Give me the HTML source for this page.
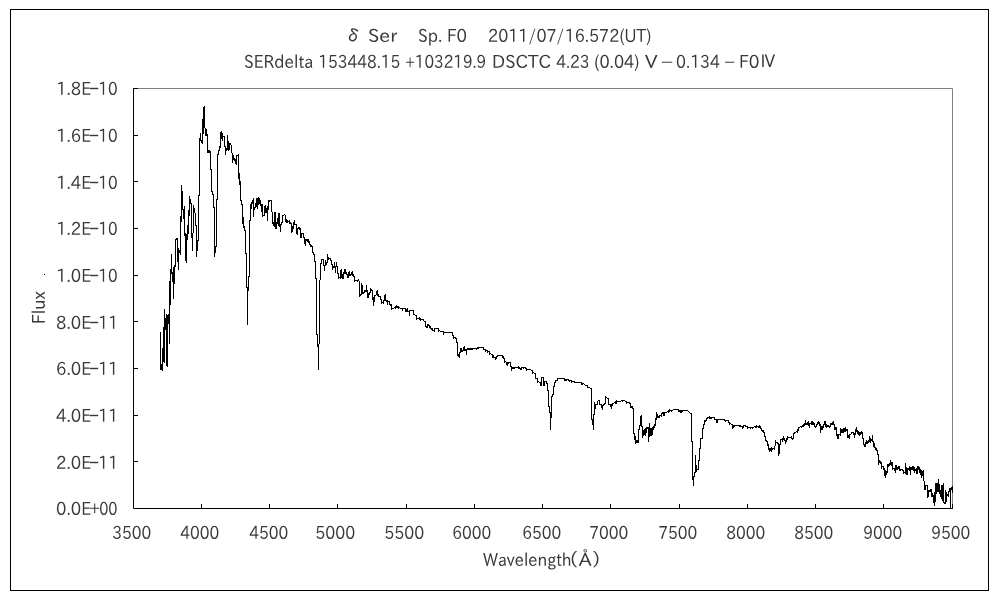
<!DOCTYPE html>
<html><head><meta charset="utf-8"><style>
html,body{margin:0;padding:0;background:#fff;width:1000px;height:600px;overflow:hidden}
svg{display:block}
.t{font-family:'IPAPGothic','IPAGothic','Liberation Sans',sans-serif;font-size:18px;fill:#383838}
</style></head><body>
<svg width="1000" height="600" viewBox="0 0 1000 600">
<rect width="1000" height="600" fill="#fff"/>
<rect x="10.5" y="9.5" width="978" height="581" fill="none" stroke="#000" stroke-width="1"/>
<path d="M133 88.5H952.5V508" fill="none" stroke="#808080" stroke-width="1"/>
<path d="M133.5 88V508.5H953" fill="none" stroke="#000" stroke-width="1"/>
<path d="M134 508.5h4M134 461.5h4M134 415.5h4M134 368.5h4M134 321.5h4M134 275.5h4M134 228.5h4M134 181.5h4M134 135.5h4M134 88.5h4M133.5 508v-4M201.5 508v-4M269.5 508v-4M337.5 508v-4M406.5 508v-4M474.5 508v-4M542.5 508v-4M610.5 508v-4M679.5 508v-4M747.5 508v-4M815.5 508v-4M883.5 508v-4M952.5 508v-4" stroke="#000" stroke-width="1"/>
<text x="56.08" y="515" textLength="34.98" lengthAdjust="spacingAndGlyphs" class="t">0.0E</text>
<text x="89.00" y="514" textLength="11.34" lengthAdjust="spacingAndGlyphs" class="t">+</text>
<text x="99.19" y="515" textLength="18.37" lengthAdjust="spacingAndGlyphs" class="t">00</text>
<text x="56.08" y="469" textLength="34.98" lengthAdjust="spacingAndGlyphs" class="t">2.0E</text>
<text x="88.20" y="468" textLength="11.62" lengthAdjust="spacingAndGlyphs" class="t">-</text>
<text x="98.25" y="469" textLength="19.85" lengthAdjust="spacingAndGlyphs" class="t">11</text>
<text x="56.08" y="422" textLength="34.98" lengthAdjust="spacingAndGlyphs" class="t">4.0E</text>
<text x="88.20" y="421" textLength="11.62" lengthAdjust="spacingAndGlyphs" class="t">-</text>
<text x="98.25" y="422" textLength="19.85" lengthAdjust="spacingAndGlyphs" class="t">11</text>
<text x="56.08" y="375" textLength="34.98" lengthAdjust="spacingAndGlyphs" class="t">6.0E</text>
<text x="88.20" y="374" textLength="11.62" lengthAdjust="spacingAndGlyphs" class="t">-</text>
<text x="98.25" y="375" textLength="19.85" lengthAdjust="spacingAndGlyphs" class="t">11</text>
<text x="56.08" y="329" textLength="34.98" lengthAdjust="spacingAndGlyphs" class="t">8.0E</text>
<text x="88.20" y="328" textLength="11.62" lengthAdjust="spacingAndGlyphs" class="t">-</text>
<text x="98.25" y="329" textLength="19.85" lengthAdjust="spacingAndGlyphs" class="t">11</text>
<text x="56.17" y="282" textLength="34.89" lengthAdjust="spacingAndGlyphs" class="t">1.0E</text>
<text x="88.20" y="281" textLength="11.62" lengthAdjust="spacingAndGlyphs" class="t">-</text>
<text x="98.30" y="282" textLength="19.28" lengthAdjust="spacingAndGlyphs" class="t">10</text>
<text x="56.17" y="235" textLength="34.89" lengthAdjust="spacingAndGlyphs" class="t">1.2E</text>
<text x="88.20" y="234" textLength="11.62" lengthAdjust="spacingAndGlyphs" class="t">-</text>
<text x="98.30" y="235" textLength="19.28" lengthAdjust="spacingAndGlyphs" class="t">10</text>
<text x="56.17" y="189" textLength="34.89" lengthAdjust="spacingAndGlyphs" class="t">1.4E</text>
<text x="88.20" y="188" textLength="11.62" lengthAdjust="spacingAndGlyphs" class="t">-</text>
<text x="98.30" y="189" textLength="19.28" lengthAdjust="spacingAndGlyphs" class="t">10</text>
<text x="56.17" y="142" textLength="34.89" lengthAdjust="spacingAndGlyphs" class="t">1.6E</text>
<text x="88.20" y="141" textLength="11.62" lengthAdjust="spacingAndGlyphs" class="t">-</text>
<text x="98.30" y="142" textLength="19.28" lengthAdjust="spacingAndGlyphs" class="t">10</text>
<text x="56.17" y="95" textLength="34.89" lengthAdjust="spacingAndGlyphs" class="t">1.8E</text>
<text x="88.20" y="94" textLength="11.62" lengthAdjust="spacingAndGlyphs" class="t">-</text>
<text x="98.30" y="95" textLength="19.28" lengthAdjust="spacingAndGlyphs" class="t">10</text>
<text x="112.14" y="539" textLength="39.03" lengthAdjust="spacingAndGlyphs" class="t">3500</text>
<text x="180.14" y="539" textLength="39.03" lengthAdjust="spacingAndGlyphs" class="t">4000</text>
<text x="249.14" y="539" textLength="39.03" lengthAdjust="spacingAndGlyphs" class="t">4500</text>
<text x="315.24" y="539" textLength="39.96" lengthAdjust="spacingAndGlyphs" class="t">5000</text>
<text x="384.24" y="539" textLength="39.96" lengthAdjust="spacingAndGlyphs" class="t">5500</text>
<text x="452.14" y="539" textLength="39.03" lengthAdjust="spacingAndGlyphs" class="t">6000</text>
<text x="522.14" y="539" textLength="39.03" lengthAdjust="spacingAndGlyphs" class="t">6500</text>
<text x="589.14" y="539" textLength="39.03" lengthAdjust="spacingAndGlyphs" class="t">7000</text>
<text x="658.14" y="539" textLength="39.03" lengthAdjust="spacingAndGlyphs" class="t">7500</text>
<text x="726.14" y="539" textLength="39.03" lengthAdjust="spacingAndGlyphs" class="t">8000</text>
<text x="794.14" y="539" textLength="39.03" lengthAdjust="spacingAndGlyphs" class="t">8500</text>
<text x="863.14" y="539" textLength="39.03" lengthAdjust="spacingAndGlyphs" class="t">9000</text>
<text x="931.14" y="539" textLength="39.03" lengthAdjust="spacingAndGlyphs" class="t">9500</text>
<text x="483.00" y="566" textLength="88.54" lengthAdjust="spacingAndGlyphs" class="t">Wavelength</text>
<text x="567.50" y="566" textLength="35.19" lengthAdjust="spacingAndGlyphs" class="t">（Å）</text>
<text x="343.67" y="42" textLength="53.65" lengthAdjust="spacingAndGlyphs" class="t">δ Ser</text>
<text x="418.08" y="42" textLength="48.81" lengthAdjust="spacingAndGlyphs" class="t">Sp. F0</text>
<text x="488.11" y="42" textLength="163.40" lengthAdjust="spacingAndGlyphs" class="t">2011/07/16.572(UT)</text>
<text x="244.08" y="68" textLength="69.18" lengthAdjust="spacingAndGlyphs" class="t">SERdelta</text>
<text x="318.28" y="68" textLength="81.98" lengthAdjust="spacingAndGlyphs" class="t">153448.15</text>
<text x="405.15" y="68" textLength="81.10" lengthAdjust="spacingAndGlyphs" class="t">+103219.9</text>
<text x="492.07" y="68" textLength="58.94" lengthAdjust="spacingAndGlyphs" class="t">DSCTC</text>
<text x="556.14" y="68" textLength="33.39" lengthAdjust="spacingAndGlyphs" class="t">4.23</text>
<text x="594.10" y="68" textLength="45.48" lengthAdjust="spacingAndGlyphs" class="t">(0.04)</text>
<text x="645.00" y="68" textLength="12.53" lengthAdjust="spacingAndGlyphs" class="t">V</text>
<text x="660.89" y="68" textLength="12.60" lengthAdjust="spacingAndGlyphs" class="t">−</text>
<text x="676.12" y="68" textLength="43.85" lengthAdjust="spacingAndGlyphs" class="t">0.134</text>
<text x="724.00" y="68" textLength="11.34" lengthAdjust="spacingAndGlyphs" class="t">−</text>
<text x="739.11" y="68" textLength="37.44" lengthAdjust="spacingAndGlyphs" class="t">F0Ⅳ</text>
<text transform="translate(45,323.88) rotate(-90)" x="0" y="0" textLength="32.65" lengthAdjust="spacingAndGlyphs" class="t">Flux</text>
<rect x="44" y="274" width="1" height="1" fill="#000"/>
<polyline shape-rendering="crispEdges" fill="none" stroke="#000" stroke-width="1" stroke-linejoin="miter" points="160.5,331.5 160.5,369.5 160.5,366.5 161.5,366.5 161.5,363.5 161.5,369.5 161.5,366.5 162.5,366.5 162.5,370.5 162.5,347.5 162.5,354.5 163.5,354.5 163.5,361.5 163.5,326.5 163.5,344.5 164.5,344.5 164.5,362.5 164.5,308.5 164.5,323.5 165.5,323.5 165.5,317.5 165.5,329.5 165.5,323.5 166.5,323.5 166.5,313.5 166.5,365.5 166.5,340.5 167.5,340.5 167.5,366.5 167.5,314.5 167.5,318.5 168.5,318.5 168.5,313.5 168.5,323.5 168.5,318.5 169.5,318.5 169.5,343.5 169.5,280.5 169.5,292.5 170.5,292.5 170.5,304.5 170.5,268.5 170.5,270.5 171.5,270.5 171.5,253.5 171.5,273.5 171.5,272.5 172.5,272.5 172.5,281.5 172.5,276.5 173.5,276.5 173.5,298.5 173.5,266.5 173.5,274.5 174.5,274.5 174.5,283.5 174.5,264.5 174.5,265.5 175.5,265.5 175.5,266.5 175.5,239.5 176.5,239.5 176.5,237.5 176.5,238.5 177.5,238.5 177.5,237.5 177.5,261.5 177.5,254.5 178.5,254.5 178.5,269.5 178.5,247.5 178.5,250.5 179.5,250.5 179.5,249.5 179.5,252.5 179.5,250.5 180.5,250.5 180.5,254.5 180.5,215.5 180.5,218.5 181.5,218.5 181.5,221.5 181.5,184.5 181.5,200.5 182.5,200.5 182.5,190.5 182.5,209.5 183.5,209.5 183.5,218.5 183.5,214.5 184.5,214.5 184.5,205.5 184.5,235.5 184.5,234.5 185.5,234.5 185.5,232.5 185.5,260.5 185.5,246.5 186.5,246.5 186.5,262.5 186.5,233.5 186.5,236.5 187.5,236.5 187.5,239.5 187.5,224.5 187.5,228.5 188.5,228.5 188.5,233.5 188.5,209.5 188.5,212.5 189.5,212.5 189.5,215.5 189.5,195.5 189.5,200.5 190.5,200.5 190.5,198.5 190.5,203.5 191.5,203.5 191.5,237.5 191.5,235.5 192.5,235.5 192.5,250.5 192.5,233.5 193.5,232.5 193.5,204.5 193.5,210.5 194.5,210.5 194.5,207.5 194.5,212.5 195.5,213.5 195.5,225.5 196.5,225.5 196.5,256.5 196.5,245.5 197.5,245.5 197.5,250.5 197.5,240.5 198.5,240.5 198.5,195.5 199.5,195.5 199.5,137.5 199.5,138.5 200.5,138.5 200.5,132.5 200.5,140.5 201.5,140.5 201.5,139.5 201.5,142.5 201.5,140.5 202.5,140.5 202.5,143.5 202.5,118.5 202.5,126.5 203.5,126.5 203.5,133.5 203.5,106.5 203.5,114.5 204.5,114.5 204.5,105.5 204.5,123.5 205.5,132.5 205.5,135.5 205.5,134.5 206.5,134.5 206.5,128.5 206.5,135.5 206.5,134.5 207.5,134.5 207.5,152.5 207.5,150.5 208.5,150.5 208.5,149.5 208.5,152.5 208.5,150.5 209.5,150.5 209.5,149.5 209.5,152.5 209.5,151.5 210.5,151.5 210.5,150.5 210.5,169.5 211.5,169.5 211.5,191.5 212.5,191.5 212.5,194.5 213.5,194.5 213.5,207.5 214.5,207.5 214.5,256.5 214.5,249.5 215.5,249.5 215.5,252.5 215.5,246.5 216.5,246.5 216.5,199.5 217.5,199.5 217.5,154.5 218.5,154.5 218.5,149.5 218.5,150.5 219.5,150.5 219.5,146.5 220.5,146.5 220.5,147.5 220.5,131.5 220.5,134.5 221.5,134.5 221.5,130.5 221.5,138.5 221.5,135.5 222.5,135.5 222.5,132.5 222.5,140.5 222.5,136.5 223.5,136.5 224.5,136.5 224.5,135.5 224.5,146.5 225.5,146.5 225.5,154.5 225.5,149.5 226.5,149.5 226.5,150.5 226.5,148.5 227.5,148.5 227.5,149.5 227.5,134.5 227.5,144.5 228.5,144.5 228.5,140.5 228.5,150.5 228.5,146.5 229.5,146.5 229.5,149.5 229.5,142.5 229.5,143.5 230.5,143.5 230.5,142.5 230.5,144.5 231.5,145.5 231.5,152.5 232.5,153.5 232.5,162.5 232.5,156.5 233.5,156.5 233.5,154.5 233.5,159.5 233.5,158.5 234.5,158.5 234.5,157.5 234.5,160.5 234.5,159.5 235.5,159.5 235.5,158.5 235.5,163.5 235.5,160.5 236.5,160.5 236.5,164.5 236.5,155.5 237.5,155.5 238.5,155.5 238.5,153.5 238.5,178.5 238.5,175.5 239.5,175.5 239.5,172.5 239.5,184.5 239.5,182.5 240.5,182.5 240.5,180.5 240.5,200.5 241.5,200.5 241.5,204.5 242.5,204.5 242.5,223.5 242.5,220.5 243.5,220.5 243.5,216.5 243.5,227.5 243.5,226.5 244.5,226.5 244.5,230.5 245.5,230.5 245.5,253.5 246.5,253.5 246.5,287.5 247.5,287.5 247.5,324.5 247.5,288.5 248.5,288.5 248.5,290.5 248.5,276.5 249.5,276.5 249.5,220.5 250.5,220.5 250.5,203.5 250.5,206.5 251.5,206.5 251.5,208.5 251.5,201.5 251.5,202.5 252.5,202.5 252.5,203.5 252.5,199.5 252.5,201.5 253.5,201.5 253.5,197.5 253.5,216.5 253.5,208.5 254.5,208.5 254.5,209.5 254.5,207.5 255.5,207.5 255.5,202.5 255.5,204.5 256.5,204.5 256.5,206.5 256.5,197.5 256.5,202.5 257.5,202.5 257.5,208.5 257.5,197.5 257.5,200.5 258.5,200.5 258.5,196.5 258.5,204.5 258.5,200.5 259.5,200.5 259.5,197.5 259.5,203.5 259.5,201.5 260.5,201.5 260.5,199.5 260.5,205.5 260.5,204.5 261.5,204.5 261.5,203.5 261.5,211.5 261.5,207.5 262.5,207.5 262.5,203.5 262.5,216.5 262.5,215.5 263.5,215.5 264.5,215.5 264.5,205.5 264.5,208.5 265.5,208.5 265.5,204.5 265.5,212.5 265.5,210.5 266.5,210.5 266.5,207.5 266.5,212.5 266.5,210.5 267.5,210.5 267.5,220.5 267.5,205.5 267.5,207.5 268.5,207.5 268.5,209.5 268.5,199.5 268.5,200.5 269.5,200.5 269.5,199.5 269.5,201.5 269.5,200.5 270.5,200.5 271.5,200.5 271.5,211.5 272.5,212.5 272.5,223.5 272.5,222.5 273.5,222.5 273.5,225.5 273.5,224.5 274.5,224.5 274.5,226.5 274.5,211.5 274.5,218.5 275.5,218.5 275.5,211.5 275.5,228.5 275.5,225.5 276.5,225.5 276.5,228.5 276.5,222.5 277.5,222.5 277.5,223.5 277.5,217.5 277.5,220.5 278.5,220.5 278.5,225.5 278.5,212.5 278.5,218.5 279.5,218.5 279.5,212.5 279.5,226.5 279.5,225.5 280.5,225.5 280.5,231.5 280.5,224.5 281.5,224.5 281.5,222.5 282.5,222.5 282.5,215.5 283.5,215.5 284.5,214.5 285.5,215.5 285.5,221.5 285.5,220.5 286.5,220.5 286.5,218.5 286.5,222.5 286.5,220.5 287.5,220.5 287.5,219.5 287.5,222.5 287.5,221.5 288.5,221.5 289.5,221.5 289.5,219.5 289.5,223.5 289.5,222.5 290.5,222.5 290.5,221.5 290.5,223.5 291.5,223.5 291.5,232.5 291.5,228.5 292.5,228.5 292.5,231.5 292.5,225.5 292.5,226.5 293.5,226.5 293.5,228.5 293.5,221.5 293.5,222.5 294.5,222.5 294.5,219.5 294.5,224.5 295.5,224.5 296.5,224.5 296.5,223.5 296.5,233.5 296.5,230.5 297.5,230.5 297.5,234.5 297.5,228.5 298.5,228.5 298.5,226.5 298.5,227.5 299.5,227.5 299.5,226.5 299.5,229.5 299.5,228.5 300.5,228.5 300.5,237.5 300.5,234.5 301.5,234.5 301.5,237.5 301.5,232.5 301.5,233.5 302.5,233.5 303.5,233.5 303.5,232.5 303.5,237.5 304.5,237.5 304.5,243.5 304.5,240.5 305.5,240.5 305.5,245.5 305.5,238.5 305.5,239.5 306.5,239.5 306.5,238.5 306.5,240.5 306.5,239.5 307.5,239.5 307.5,238.5 307.5,241.5 307.5,240.5 308.5,240.5 308.5,238.5 308.5,242.5 308.5,241.5 309.5,241.5 309.5,240.5 309.5,244.5 310.5,244.5 310.5,243.5 310.5,246.5 310.5,245.5 311.5,245.5 311.5,244.5 311.5,246.5 312.5,246.5 312.5,245.5 312.5,252.5 313.5,252.5 313.5,254.5 314.5,254.5 314.5,261.5 315.5,261.5 315.5,278.5 316.5,278.5 316.5,334.5 317.5,334.5 317.5,346.5 318.5,346.5 318.5,369.5 318.5,345.5 319.5,342.5 319.5,280.5 320.5,279.5 320.5,263.5 321.5,263.5 321.5,259.5 322.5,259.5 323.5,259.5 323.5,258.5 323.5,265.5 324.5,265.5 324.5,270.5 324.5,265.5 325.5,265.5 325.5,259.5 325.5,262.5 326.5,262.5 326.5,261.5 326.5,264.5 326.5,262.5 327.5,262.5 327.5,253.5 327.5,258.5 328.5,258.5 328.5,256.5 328.5,259.5 328.5,258.5 329.5,258.5 330.5,258.5 330.5,257.5 330.5,260.5 331.5,260.5 331.5,259.5 331.5,264.5 332.5,264.5 332.5,269.5 332.5,266.5 333.5,266.5 333.5,265.5 333.5,267.5 333.5,266.5 334.5,266.5 334.5,261.5 334.5,267.5 334.5,266.5 335.5,266.5 335.5,265.5 335.5,272.5 335.5,266.5 336.5,266.5 336.5,261.5 336.5,266.5 337.5,266.5 337.5,273.5 338.5,273.5 338.5,278.5 338.5,277.5 339.5,277.5 340.5,277.5 340.5,278.5 340.5,269.5 340.5,273.5 341.5,273.5 341.5,268.5 341.5,277.5 341.5,275.5 342.5,275.5 342.5,273.5 342.5,278.5 342.5,276.5 343.5,276.5 343.5,278.5 343.5,272.5 344.5,272.5 344.5,273.5 344.5,268.5 344.5,270.5 345.5,270.5 345.5,268.5 345.5,273.5 345.5,272.5 346.5,272.5 346.5,274.5 347.5,274.5 347.5,273.5 347.5,277.5 347.5,275.5 348.5,275.5 348.5,277.5 348.5,271.5 348.5,273.5 349.5,273.5 349.5,270.5 349.5,275.5 349.5,274.5 350.5,274.5 350.5,273.5 350.5,275.5 350.5,274.5 351.5,274.5 351.5,271.5 351.5,272.5 352.5,272.5 352.5,270.5 352.5,275.5 352.5,274.5 353.5,274.5 353.5,276.5 354.5,276.5 354.5,281.5 354.5,280.5 355.5,280.5 356.5,280.5 357.5,280.5 357.5,279.5 357.5,281.5 357.5,280.5 358.5,280.5 358.5,278.5 358.5,280.5 359.5,281.5 359.5,296.5 359.5,294.5 360.5,294.5 360.5,293.5 360.5,295.5 360.5,294.5 361.5,294.5 361.5,282.5 361.5,288.5 362.5,288.5 362.5,284.5 362.5,293.5 362.5,292.5 363.5,292.5 363.5,291.5 363.5,293.5 363.5,292.5 364.5,292.5 364.5,290.5 365.5,290.5 365.5,289.5 365.5,291.5 365.5,290.5 366.5,290.5 366.5,284.5 366.5,291.5 366.5,290.5 367.5,290.5 367.5,297.5 367.5,294.5 368.5,294.5 368.5,297.5 368.5,292.5 368.5,293.5 369.5,293.5 369.5,294.5 369.5,292.5 370.5,292.5 370.5,287.5 370.5,289.5 371.5,289.5 371.5,288.5 371.5,290.5 372.5,290.5 372.5,289.5 372.5,299.5 372.5,298.5 373.5,298.5 373.5,296.5 373.5,305.5 373.5,298.5 374.5,298.5 374.5,301.5 374.5,294.5 374.5,295.5 375.5,295.5 376.5,294.5 376.5,290.5 376.5,292.5 377.5,292.5 377.5,289.5 377.5,295.5 377.5,294.5 378.5,294.5 378.5,296.5 379.5,296.5 380.5,296.5 380.5,299.5 381.5,299.5 381.5,303.5 381.5,302.5 382.5,302.5 383.5,302.5 383.5,303.5 383.5,299.5 383.5,300.5 384.5,300.5 384.5,294.5 384.5,297.5 385.5,297.5 385.5,293.5 385.5,300.5 386.5,300.5 386.5,299.5 386.5,301.5 386.5,300.5 387.5,300.5 387.5,304.5 387.5,301.5 388.5,301.5 389.5,301.5 389.5,300.5 389.5,304.5 390.5,304.5 390.5,303.5 390.5,305.5 390.5,304.5 391.5,304.5 391.5,309.5 391.5,308.5 392.5,308.5 393.5,308.5 394.5,307.5 395.5,307.5 395.5,308.5 395.5,306.5 396.5,306.5 396.5,304.5 396.5,307.5 396.5,306.5 397.5,306.5 397.5,305.5 397.5,307.5 397.5,306.5 398.5,306.5 398.5,308.5 398.5,307.5 399.5,307.5 400.5,308.5 401.5,308.5 402.5,308.5 402.5,310.5 402.5,308.5 403.5,308.5 404.5,308.5 405.5,308.5 405.5,311.5 405.5,310.5 406.5,310.5 406.5,308.5 406.5,311.5 406.5,310.5 407.5,310.5 407.5,307.5 407.5,311.5 408.5,311.5 409.5,311.5 409.5,315.5 409.5,310.5 410.5,310.5 411.5,310.5 412.5,310.5 413.5,310.5 413.5,309.5 413.5,314.5 414.5,314.5 415.5,315.5 416.5,315.5 416.5,314.5 416.5,319.5 416.5,318.5 417.5,318.5 418.5,318.5 419.5,318.5 419.5,316.5 419.5,319.5 419.5,318.5 420.5,318.5 420.5,317.5 420.5,320.5 420.5,319.5 421.5,319.5 422.5,319.5 423.5,319.5 423.5,318.5 423.5,320.5 424.5,321.5 425.5,321.5 425.5,320.5 425.5,326.5 426.5,326.5 426.5,325.5 426.5,327.5 426.5,326.5 427.5,326.5 427.5,327.5 427.5,323.5 427.5,324.5 428.5,324.5 428.5,323.5 428.5,325.5 429.5,325.5 429.5,327.5 429.5,326.5 430.5,326.5 430.5,328.5 431.5,328.5 431.5,327.5 431.5,329.5 431.5,328.5 432.5,328.5 432.5,330.5 433.5,330.5 434.5,330.5 434.5,331.5 434.5,328.5 435.5,328.5 436.5,328.5 437.5,328.5 438.5,328.5 438.5,331.5 438.5,330.5 439.5,330.5 440.5,331.5 441.5,331.5 442.5,331.5 443.5,331.5 443.5,334.5 443.5,332.5 444.5,332.5 445.5,332.5 446.5,332.5 447.5,332.5 448.5,332.5 449.5,332.5 450.5,332.5 451.5,332.5 452.5,332.5 452.5,335.5 453.5,335.5 453.5,338.5 453.5,337.5 454.5,337.5 455.5,337.5 455.5,336.5 455.5,338.5 456.5,338.5 456.5,337.5 456.5,342.5 457.5,342.5 457.5,355.5 457.5,354.5 458.5,354.5 458.5,356.5 458.5,355.5 459.5,355.5 459.5,357.5 459.5,352.5 460.5,352.5 460.5,347.5 460.5,349.5 461.5,349.5 461.5,347.5 461.5,351.5 461.5,350.5 462.5,350.5 462.5,349.5 462.5,351.5 462.5,350.5 463.5,350.5 463.5,346.5 463.5,348.5 464.5,348.5 464.5,345.5 464.5,350.5 464.5,349.5 465.5,349.5 465.5,348.5 465.5,350.5 466.5,350.5 466.5,354.5 466.5,349.5 467.5,349.5 467.5,347.5 467.5,348.5 468.5,348.5 468.5,347.5 468.5,349.5 468.5,348.5 469.5,348.5 469.5,347.5 469.5,349.5 469.5,348.5 470.5,348.5 470.5,347.5 470.5,349.5 470.5,348.5 471.5,348.5 471.5,347.5 471.5,349.5 471.5,348.5 472.5,348.5 472.5,347.5 472.5,349.5 472.5,348.5 473.5,348.5 474.5,348.5 475.5,348.5 476.5,348.5 476.5,347.5 476.5,349.5 476.5,348.5 477.5,348.5 477.5,346.5 477.5,347.5 478.5,347.5 478.5,346.5 478.5,348.5 478.5,347.5 479.5,347.5 480.5,347.5 481.5,347.5 482.5,347.5 483.5,347.5 483.5,349.5 484.5,349.5 485.5,349.5 485.5,351.5 485.5,350.5 486.5,350.5 487.5,350.5 487.5,352.5 487.5,351.5 488.5,351.5 489.5,351.5 489.5,354.5 489.5,353.5 490.5,353.5 491.5,354.5 492.5,354.5 492.5,353.5 492.5,357.5 492.5,356.5 493.5,356.5 493.5,354.5 493.5,357.5 494.5,357.5 495.5,357.5 495.5,359.5 495.5,358.5 496.5,358.5 496.5,355.5 496.5,356.5 497.5,356.5 497.5,354.5 497.5,355.5 498.5,355.5 499.5,355.5 500.5,355.5 501.5,355.5 502.5,355.5 502.5,357.5 502.5,356.5 503.5,356.5 503.5,358.5 504.5,358.5 504.5,362.5 504.5,361.5 505.5,361.5 506.5,362.5 506.5,364.5 506.5,363.5 507.5,363.5 507.5,365.5 507.5,362.5 508.5,362.5 508.5,361.5 508.5,363.5 508.5,362.5 509.5,362.5 510.5,362.5 510.5,361.5 510.5,366.5 511.5,366.5 511.5,365.5 511.5,370.5 511.5,367.5 512.5,367.5 512.5,366.5 512.5,368.5 512.5,367.5 513.5,367.5 513.5,366.5 513.5,368.5 513.5,367.5 514.5,367.5 514.5,366.5 514.5,368.5 514.5,367.5 515.5,367.5 516.5,367.5 517.5,367.5 518.5,367.5 518.5,365.5 518.5,368.5 518.5,367.5 519.5,367.5 519.5,366.5 519.5,368.5 520.5,368.5 520.5,367.5 520.5,369.5 520.5,368.5 521.5,368.5 521.5,369.5 521.5,367.5 522.5,367.5 523.5,367.5 523.5,366.5 523.5,368.5 523.5,367.5 524.5,367.5 525.5,367.5 525.5,366.5 525.5,368.5 526.5,368.5 526.5,370.5 526.5,369.5 527.5,369.5 528.5,369.5 529.5,369.5 530.5,369.5 531.5,370.5 532.5,370.5 532.5,369.5 532.5,373.5 532.5,372.5 533.5,372.5 534.5,373.5 535.5,373.5 535.5,372.5 535.5,378.5 536.5,378.5 537.5,378.5 537.5,382.5 537.5,381.5 538.5,381.5 539.5,382.5 540.5,382.5 540.5,381.5 540.5,385.5 540.5,383.5 541.5,383.5 541.5,385.5 541.5,376.5 541.5,377.5 542.5,377.5 543.5,377.5 543.5,376.5 543.5,385.5 543.5,382.5 544.5,382.5 544.5,385.5 544.5,380.5 544.5,381.5 545.5,381.5 546.5,381.5 546.5,380.5 546.5,383.5 547.5,383.5 547.5,390.5 548.5,390.5 548.5,406.5 549.5,406.5 549.5,412.5 550.5,412.5 550.5,429.5 550.5,414.5 551.5,414.5 551.5,417.5 551.5,396.5 552.5,396.5 552.5,394.5 553.5,394.5 553.5,386.5 554.5,386.5 554.5,382.5 555.5,382.5 555.5,380.5 556.5,380.5 557.5,380.5 557.5,377.5 557.5,378.5 558.5,378.5 559.5,378.5 560.5,378.5 561.5,378.5 562.5,378.5 563.5,378.5 564.5,378.5 564.5,380.5 564.5,379.5 565.5,379.5 565.5,378.5 565.5,380.5 565.5,379.5 566.5,379.5 566.5,378.5 566.5,380.5 566.5,379.5 567.5,379.5 568.5,379.5 568.5,378.5 568.5,380.5 569.5,380.5 569.5,379.5 569.5,381.5 569.5,380.5 570.5,380.5 571.5,380.5 571.5,382.5 571.5,381.5 572.5,381.5 573.5,381.5 574.5,381.5 574.5,380.5 574.5,382.5 575.5,382.5 576.5,382.5 577.5,382.5 578.5,382.5 579.5,382.5 580.5,382.5 581.5,382.5 581.5,384.5 581.5,383.5 582.5,383.5 582.5,382.5 582.5,384.5 582.5,383.5 583.5,383.5 584.5,384.5 585.5,385.5 586.5,385.5 587.5,385.5 587.5,387.5 588.5,387.5 589.5,387.5 590.5,388.5 591.5,388.5 591.5,419.5 592.5,419.5 592.5,424.5 592.5,422.5 593.5,422.5 593.5,429.5 593.5,414.5 594.5,414.5 594.5,401.5 594.5,406.5 595.5,406.5 595.5,408.5 595.5,403.5 595.5,404.5 596.5,404.5 597.5,404.5 597.5,401.5 598.5,400.5 599.5,400.5 599.5,399.5 599.5,404.5 600.5,404.5 601.5,404.5 601.5,407.5 601.5,406.5 602.5,406.5 602.5,409.5 602.5,404.5 602.5,405.5 603.5,405.5 604.5,403.5 605.5,403.5 605.5,395.5 605.5,397.5 606.5,397.5 607.5,398.5 608.5,398.5 608.5,397.5 608.5,404.5 609.5,404.5 610.5,404.5 610.5,406.5 610.5,405.5 611.5,405.5 611.5,408.5 611.5,404.5 612.5,404.5 612.5,405.5 612.5,403.5 613.5,403.5 614.5,402.5 615.5,402.5 615.5,400.5 615.5,403.5 615.5,402.5 616.5,402.5 616.5,403.5 616.5,399.5 616.5,401.5 617.5,401.5 618.5,401.5 619.5,401.5 620.5,401.5 621.5,400.5 622.5,400.5 622.5,399.5 622.5,401.5 622.5,400.5 623.5,400.5 624.5,400.5 625.5,401.5 626.5,401.5 626.5,403.5 626.5,402.5 627.5,402.5 628.5,402.5 629.5,402.5 629.5,401.5 629.5,403.5 630.5,403.5 630.5,407.5 630.5,406.5 631.5,406.5 631.5,405.5 631.5,407.5 631.5,406.5 632.5,406.5 632.5,408.5 633.5,408.5 633.5,433.5 634.5,433.5 634.5,439.5 634.5,437.5 635.5,437.5 635.5,435.5 635.5,443.5 635.5,440.5 636.5,440.5 636.5,439.5 636.5,442.5 636.5,440.5 637.5,440.5 637.5,439.5 637.5,442.5 637.5,440.5 638.5,440.5 638.5,442.5 638.5,429.5 639.5,429.5 639.5,425.5 640.5,425.5 640.5,415.5 640.5,420.5 641.5,420.5 641.5,414.5 641.5,426.5 642.5,426.5 642.5,437.5 642.5,432.5 643.5,432.5 643.5,429.5 643.5,435.5 643.5,432.5 644.5,432.5 644.5,434.5 644.5,428.5 644.5,431.5 645.5,431.5 645.5,435.5 645.5,427.5 645.5,430.5 646.5,430.5 646.5,432.5 646.5,426.5 646.5,427.5 647.5,427.5 647.5,426.5 647.5,428.5 647.5,427.5 648.5,427.5 648.5,426.5 648.5,441.5 648.5,431.5 649.5,431.5 649.5,422.5 649.5,436.5 649.5,431.5 650.5,431.5 650.5,427.5 650.5,435.5 650.5,431.5 651.5,431.5 651.5,435.5 651.5,427.5 651.5,430.5 652.5,430.5 652.5,434.5 652.5,426.5 652.5,428.5 653.5,428.5 653.5,429.5 653.5,426.5 654.5,426.5 654.5,427.5 654.5,423.5 654.5,424.5 655.5,424.5 655.5,425.5 655.5,418.5 656.5,418.5 656.5,419.5 656.5,411.5 656.5,415.5 657.5,415.5 657.5,413.5 657.5,417.5 657.5,416.5 658.5,416.5 658.5,415.5 658.5,417.5 658.5,416.5 659.5,416.5 659.5,417.5 659.5,415.5 660.5,415.5 661.5,415.5 661.5,416.5 661.5,413.5 662.5,413.5 662.5,411.5 662.5,412.5 663.5,412.5 663.5,415.5 663.5,414.5 664.5,414.5 664.5,415.5 664.5,411.5 664.5,412.5 665.5,412.5 666.5,412.5 667.5,411.5 668.5,411.5 668.5,412.5 668.5,410.5 669.5,410.5 669.5,408.5 669.5,411.5 669.5,410.5 670.5,410.5 671.5,410.5 671.5,409.5 671.5,411.5 671.5,410.5 672.5,410.5 673.5,409.5 674.5,409.5 675.5,409.5 676.5,409.5 677.5,409.5 678.5,409.5 678.5,411.5 678.5,410.5 679.5,410.5 679.5,409.5 679.5,411.5 679.5,410.5 680.5,410.5 680.5,412.5 680.5,411.5 681.5,411.5 681.5,412.5 681.5,409.5 681.5,410.5 682.5,410.5 682.5,409.5 682.5,411.5 682.5,410.5 683.5,410.5 684.5,410.5 685.5,410.5 686.5,410.5 687.5,410.5 688.5,411.5 689.5,412.5 690.5,413.5 691.5,413.5 691.5,412.5 691.5,441.5 692.5,441.5 692.5,479.5 692.5,478.5 693.5,478.5 693.5,485.5 693.5,476.5 694.5,476.5 694.5,472.5 695.5,472.5 695.5,454.5 695.5,468.5 696.5,468.5 696.5,464.5 696.5,471.5 696.5,469.5 697.5,469.5 698.5,469.5 698.5,460.5 699.5,460.5 699.5,448.5 700.5,448.5 700.5,438.5 701.5,438.5 702.5,438.5 702.5,428.5 703.5,428.5 703.5,424.5 704.5,424.5 704.5,420.5 705.5,420.5 705.5,419.5 705.5,421.5 705.5,420.5 706.5,420.5 706.5,417.5 706.5,418.5 707.5,418.5 707.5,416.5 707.5,417.5 708.5,417.5 709.5,417.5 709.5,415.5 709.5,418.5 709.5,417.5 710.5,417.5 710.5,416.5 710.5,418.5 710.5,417.5 711.5,417.5 711.5,416.5 711.5,418.5 711.5,417.5 712.5,417.5 713.5,417.5 714.5,417.5 714.5,416.5 714.5,419.5 715.5,419.5 716.5,419.5 716.5,418.5 716.5,422.5 716.5,420.5 717.5,420.5 717.5,422.5 717.5,418.5 717.5,419.5 718.5,419.5 719.5,419.5 720.5,419.5 721.5,419.5 722.5,419.5 723.5,419.5 724.5,419.5 724.5,418.5 724.5,420.5 725.5,420.5 725.5,419.5 725.5,421.5 725.5,420.5 726.5,420.5 727.5,420.5 728.5,420.5 728.5,419.5 728.5,422.5 729.5,422.5 729.5,424.5 729.5,423.5 730.5,423.5 731.5,424.5 732.5,424.5 732.5,423.5 732.5,428.5 732.5,426.5 733.5,426.5 733.5,427.5 733.5,424.5 733.5,425.5 734.5,425.5 734.5,424.5 734.5,426.5 734.5,425.5 735.5,425.5 736.5,425.5 737.5,425.5 738.5,425.5 739.5,425.5 739.5,424.5 739.5,426.5 739.5,425.5 740.5,425.5 740.5,424.5 740.5,426.5 741.5,426.5 742.5,426.5 742.5,428.5 742.5,426.5 743.5,426.5 743.5,427.5 743.5,424.5 743.5,425.5 744.5,425.5 745.5,425.5 745.5,424.5 745.5,426.5 746.5,426.5 747.5,426.5 747.5,428.5 747.5,427.5 748.5,427.5 749.5,427.5 750.5,427.5 750.5,426.5 750.5,428.5 750.5,427.5 751.5,427.5 752.5,427.5 752.5,426.5 752.5,428.5 752.5,427.5 753.5,427.5 754.5,426.5 755.5,426.5 755.5,425.5 755.5,427.5 755.5,426.5 756.5,426.5 756.5,424.5 756.5,427.5 756.5,426.5 757.5,426.5 758.5,426.5 758.5,425.5 758.5,427.5 758.5,426.5 759.5,426.5 759.5,424.5 759.5,427.5 759.5,426.5 760.5,426.5 760.5,425.5 760.5,428.5 761.5,428.5 761.5,430.5 762.5,430.5 762.5,429.5 762.5,431.5 762.5,430.5 763.5,430.5 763.5,432.5 764.5,432.5 764.5,431.5 764.5,436.5 765.5,436.5 765.5,435.5 765.5,440.5 766.5,440.5 766.5,439.5 766.5,441.5 767.5,441.5 767.5,445.5 767.5,444.5 768.5,444.5 768.5,449.5 768.5,448.5 769.5,448.5 769.5,451.5 769.5,449.5 770.5,449.5 770.5,450.5 770.5,447.5 770.5,448.5 771.5,448.5 771.5,446.5 771.5,451.5 771.5,448.5 772.5,448.5 772.5,447.5 772.5,449.5 772.5,448.5 773.5,448.5 774.5,448.5 774.5,449.5 774.5,446.5 775.5,445.5 775.5,439.5 775.5,442.5 776.5,442.5 777.5,442.5 777.5,441.5 777.5,443.5 778.5,443.5 778.5,455.5 778.5,448.5 779.5,448.5 779.5,453.5 779.5,443.5 779.5,444.5 780.5,444.5 780.5,438.5 780.5,439.5 781.5,439.5 782.5,439.5 782.5,441.5 782.5,437.5 782.5,438.5 783.5,438.5 783.5,435.5 783.5,439.5 783.5,438.5 784.5,438.5 784.5,440.5 785.5,440.5 785.5,443.5 785.5,440.5 786.5,440.5 786.5,441.5 786.5,438.5 787.5,438.5 787.5,439.5 787.5,435.5 787.5,437.5 788.5,437.5 789.5,437.5 790.5,437.5 791.5,437.5 791.5,435.5 791.5,438.5 792.5,438.5 792.5,437.5 792.5,439.5 792.5,438.5 793.5,438.5 793.5,433.5 794.5,433.5 794.5,431.5 794.5,432.5 795.5,432.5 796.5,431.5 797.5,431.5 797.5,432.5 797.5,428.5 797.5,429.5 798.5,429.5 798.5,430.5 798.5,426.5 798.5,427.5 799.5,427.5 800.5,426.5 801.5,426.5 801.5,425.5 801.5,427.5 801.5,426.5 802.5,426.5 802.5,424.5 802.5,425.5 803.5,425.5 803.5,426.5 803.5,424.5 804.5,424.5 804.5,425.5 804.5,422.5 804.5,423.5 805.5,423.5 805.5,419.5 805.5,424.5 805.5,423.5 806.5,423.5 806.5,422.5 806.5,424.5 806.5,423.5 807.5,423.5 807.5,424.5 807.5,421.5 807.5,422.5 808.5,422.5 808.5,420.5 808.5,425.5 808.5,424.5 809.5,424.5 809.5,427.5 809.5,422.5 809.5,423.5 810.5,423.5 811.5,423.5 811.5,424.5 811.5,420.5 811.5,422.5 812.5,422.5 812.5,420.5 812.5,424.5 812.5,422.5 813.5,422.5 813.5,421.5 813.5,424.5 813.5,423.5 814.5,423.5 814.5,422.5 814.5,426.5 815.5,426.5 815.5,425.5 815.5,427.5 815.5,426.5 816.5,426.5 816.5,424.5 817.5,424.5 817.5,421.5 817.5,422.5 818.5,422.5 818.5,420.5 818.5,423.5 818.5,422.5 819.5,422.5 819.5,421.5 819.5,425.5 819.5,424.5 820.5,424.5 820.5,432.5 820.5,427.5 821.5,427.5 821.5,425.5 821.5,429.5 821.5,427.5 822.5,427.5 822.5,429.5 822.5,425.5 822.5,426.5 823.5,426.5 823.5,427.5 823.5,423.5 823.5,424.5 824.5,424.5 824.5,420.5 824.5,422.5 825.5,422.5 825.5,420.5 825.5,426.5 825.5,424.5 826.5,424.5 826.5,423.5 826.5,427.5 826.5,425.5 827.5,425.5 827.5,424.5 827.5,426.5 827.5,425.5 828.5,425.5 828.5,424.5 828.5,426.5 829.5,426.5 829.5,425.5 829.5,427.5 829.5,426.5 830.5,426.5 830.5,422.5 830.5,423.5 831.5,423.5 831.5,422.5 831.5,424.5 831.5,423.5 832.5,423.5 832.5,424.5 832.5,421.5 832.5,422.5 833.5,422.5 833.5,420.5 833.5,424.5 834.5,424.5 834.5,423.5 834.5,429.5 834.5,428.5 835.5,428.5 835.5,426.5 835.5,429.5 835.5,428.5 836.5,428.5 836.5,426.5 836.5,435.5 836.5,434.5 837.5,434.5 837.5,438.5 837.5,436.5 838.5,436.5 838.5,438.5 838.5,434.5 839.5,434.5 840.5,434.5 840.5,435.5 840.5,427.5 840.5,430.5 841.5,430.5 841.5,428.5 841.5,432.5 841.5,430.5 842.5,430.5 842.5,428.5 842.5,432.5 842.5,430.5 843.5,430.5 843.5,432.5 843.5,427.5 843.5,429.5 844.5,429.5 844.5,427.5 844.5,431.5 844.5,429.5 845.5,429.5 845.5,426.5 845.5,431.5 845.5,429.5 846.5,429.5 846.5,428.5 846.5,430.5 846.5,429.5 847.5,429.5 847.5,428.5 847.5,437.5 847.5,436.5 848.5,436.5 848.5,434.5 848.5,437.5 848.5,436.5 849.5,436.5 849.5,438.5 849.5,434.5 850.5,434.5 851.5,433.5 851.5,431.5 851.5,432.5 852.5,432.5 853.5,432.5 853.5,434.5 853.5,433.5 854.5,433.5 854.5,432.5 854.5,437.5 854.5,433.5 855.5,433.5 855.5,434.5 855.5,428.5 855.5,430.5 856.5,430.5 856.5,426.5 856.5,431.5 856.5,430.5 857.5,430.5 857.5,429.5 857.5,433.5 857.5,432.5 858.5,432.5 858.5,430.5 858.5,434.5 858.5,432.5 859.5,432.5 859.5,431.5 859.5,435.5 859.5,432.5 860.5,432.5 860.5,431.5 860.5,434.5 860.5,432.5 861.5,432.5 861.5,430.5 861.5,433.5 861.5,432.5 862.5,432.5 862.5,438.5 863.5,438.5 863.5,444.5 864.5,444.5 864.5,443.5 864.5,446.5 864.5,444.5 865.5,444.5 865.5,446.5 865.5,442.5 866.5,442.5 866.5,439.5 866.5,443.5 866.5,442.5 867.5,442.5 867.5,443.5 867.5,440.5 867.5,441.5 868.5,441.5 868.5,442.5 868.5,439.5 868.5,440.5 869.5,440.5 869.5,441.5 869.5,435.5 869.5,439.5 870.5,439.5 870.5,437.5 870.5,442.5 870.5,439.5 871.5,439.5 871.5,438.5 871.5,440.5 871.5,439.5 872.5,439.5 872.5,434.5 872.5,441.5 873.5,441.5 873.5,446.5 873.5,444.5 874.5,444.5 874.5,442.5 874.5,447.5 875.5,447.5 875.5,449.5 875.5,448.5 876.5,448.5 876.5,450.5 877.5,450.5 877.5,449.5 877.5,454.5 878.5,454.5 878.5,464.5 878.5,460.5 879.5,460.5 879.5,459.5 879.5,462.5 879.5,461.5 880.5,461.5 880.5,460.5 880.5,463.5 880.5,462.5 881.5,462.5 881.5,468.5 881.5,466.5 882.5,466.5 883.5,466.5 883.5,465.5 883.5,469.5 883.5,468.5 884.5,468.5 884.5,475.5 884.5,472.5 885.5,472.5 885.5,469.5 885.5,477.5 885.5,472.5 886.5,472.5 886.5,474.5 886.5,470.5 886.5,471.5 887.5,471.5 887.5,472.5 887.5,463.5 887.5,464.5 888.5,464.5 888.5,463.5 888.5,466.5 888.5,464.5 889.5,464.5 889.5,465.5 889.5,462.5 889.5,463.5 890.5,463.5 890.5,464.5 890.5,459.5 890.5,462.5 891.5,462.5 891.5,461.5 891.5,465.5 891.5,463.5 892.5,463.5 892.5,461.5 892.5,469.5 892.5,468.5 893.5,468.5 894.5,468.5 894.5,470.5 894.5,469.5 895.5,469.5 895.5,472.5 895.5,464.5 895.5,466.5 896.5,466.5 896.5,464.5 896.5,469.5 896.5,468.5 897.5,468.5 897.5,469.5 897.5,466.5 897.5,467.5 898.5,467.5 898.5,468.5 898.5,465.5 898.5,466.5 899.5,466.5 899.5,465.5 899.5,470.5 899.5,469.5 900.5,469.5 900.5,468.5 900.5,470.5 900.5,469.5 901.5,469.5 902.5,469.5 902.5,468.5 902.5,470.5 903.5,470.5 903.5,469.5 903.5,473.5 903.5,472.5 904.5,472.5 905.5,472.5 905.5,473.5 905.5,462.5 905.5,470.5 906.5,470.5 906.5,466.5 906.5,474.5 906.5,471.5 907.5,471.5 907.5,474.5 907.5,468.5 908.5,468.5 908.5,467.5 908.5,469.5 908.5,468.5 909.5,468.5 909.5,465.5 909.5,470.5 909.5,468.5 910.5,468.5 910.5,466.5 910.5,474.5 910.5,468.5 911.5,468.5 911.5,466.5 911.5,469.5 911.5,468.5 912.5,468.5 912.5,469.5 912.5,465.5 912.5,467.5 913.5,467.5 913.5,465.5 913.5,470.5 913.5,468.5 914.5,468.5 914.5,466.5 914.5,472.5 914.5,469.5 915.5,469.5 915.5,468.5 915.5,470.5 915.5,469.5 916.5,469.5 916.5,467.5 916.5,473.5 916.5,470.5 917.5,470.5 917.5,473.5 917.5,465.5 917.5,467.5 918.5,467.5 918.5,465.5 918.5,469.5 918.5,468.5 919.5,468.5 919.5,466.5 919.5,472.5 919.5,470.5 920.5,470.5 920.5,468.5 920.5,474.5 920.5,472.5 921.5,472.5 921.5,469.5 921.5,477.5 921.5,472.5 922.5,472.5 922.5,470.5 922.5,475.5 922.5,472.5 923.5,472.5 923.5,469.5 923.5,480.5 924.5,481.5 924.5,489.5 924.5,486.5 925.5,486.5 925.5,489.5 925.5,484.5 925.5,485.5 926.5,485.5 927.5,485.5 927.5,484.5 927.5,497.5 927.5,493.5 928.5,493.5 928.5,496.5 928.5,490.5 929.5,490.5 929.5,489.5 929.5,491.5 929.5,490.5 930.5,490.5 930.5,488.5 930.5,491.5 930.5,490.5 931.5,490.5 931.5,488.5 931.5,496.5 931.5,494.5 932.5,494.5 932.5,492.5 932.5,496.5 932.5,495.5 933.5,495.5 933.5,494.5 933.5,502.5 933.5,498.5 934.5,498.5 934.5,505.5 934.5,491.5 934.5,496.5 935.5,496.5 935.5,501.5 935.5,482.5 935.5,488.5 936.5,488.5 936.5,493.5 936.5,482.5 936.5,486.5 937.5,486.5 937.5,482.5 937.5,491.5 937.5,486.5 938.5,486.5 938.5,478.5 938.5,491.5 938.5,487.5 939.5,487.5 939.5,483.5 939.5,493.5 939.5,491.5 940.5,491.5 940.5,489.5 940.5,496.5 940.5,492.5 941.5,492.5 941.5,498.5 941.5,484.5 941.5,491.5 942.5,491.5 942.5,484.5 942.5,500.5 942.5,492.5 943.5,492.5 943.5,482.5 943.5,502.5 944.5,502.5 944.5,501.5 944.5,503.5 944.5,502.5 945.5,502.5 945.5,503.5 945.5,489.5 945.5,496.5 946.5,496.5 946.5,501.5 946.5,491.5 946.5,494.5 947.5,494.5 947.5,493.5 947.5,495.5 947.5,494.5 948.5,494.5 948.5,496.5 948.5,491.5 949.5,491.5 949.5,487.5 949.5,489.5 950.5,489.5 950.5,508.5 950.5,487.5 950.5,488.5 951.5,488.5 951.5,486.5 951.5,489.5 951.5,488.5 952.5,488.5 952.5,492.5 952.5,485.5"/>
</svg></body></html>
